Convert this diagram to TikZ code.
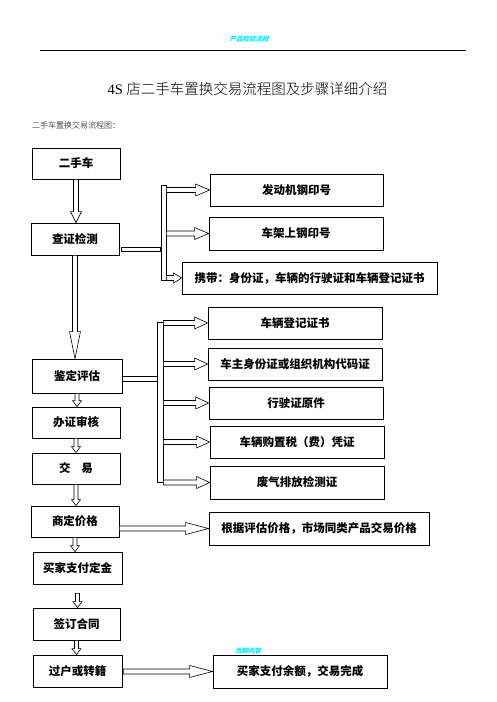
\documentclass[tikz,border=0pt]{standalone}
\usepackage{fontspec}
\setmainfont{Liberation Serif}
\newfontfamily\cjk{Noto Sans CJK SC}
\newfontfamily\cjkl{Noto Sans CJK SC}[UprightFont=* Light]
\newfontfamily\cjksl{Noto Sans CJK SC}[FakeSlant=0.25]
\usetikzlibrary{calc}
\definecolor{hdrcyan}{RGB}{0,235,255}
\tikzset{
 box/.style={draw, line width=0.8pt, inner sep=0pt, font=\cjk\bfseries\fontsize{11.5}{13}\selectfont},
 bar/.style={draw, line width=0.7pt, fill=white, inner sep=0pt},
 blk/.style={draw, line width=0.6pt, fill=white, line join=miter},
 hdr/.style={text=hdrcyan, font=\cjksl\bfseries\fontsize{6.5}{7}\selectfont, inner sep=0pt},
}
% vertical hollow arrow: from, to, shaft half, head half, head length
\newcommand\blockdown[5]{%
 \draw[blk] let \p1=(#1), \p2=(#2) in
  (\x1-#3pt,\y1) -- (\x1-#3pt,\y2+#5pt) -- (\x1-#4pt,\y2+#5pt) -- (\x1,\y2)
  -- (\x1+#4pt,\y2+#5pt) -- (\x1+#3pt,\y2+#5pt) -- (\x1+#3pt,\y1) -- cycle;}
% horizontal hollow arrow
\newcommand\blockright[5]{%
 \draw[blk] let \p1=(#1), \p2=(#2) in
  (\x1,\y2+#3pt) -- (\x2-#5pt,\y2+#3pt) -- (\x2-#5pt,\y2+#4pt) -- (\x2,\y2)
  -- (\x2-#5pt,\y2-#4pt) -- (\x2-#5pt,\y2-#3pt) -- (\x1,\y2-#3pt) -- cycle;}
\begin{document}
\begin{tikzpicture}[x=1pt,y=-1pt]
\useasboundingbox[fill=white] (0,0) rectangle (496,702);
% header
\node[hdr] (hdr) at (249,39) {产品检验流程};
\coordinate (hl) at (40,50);
\coordinate (hr) at (466,50);
\draw[line width=0.7pt] (hl) -- (hr);
% titles
\node[inner sep=0pt, font=\fontsize{14.5}{16}\selectfont] (title) at (247.5,89) {4S {\cjkl 店二手车置换交易流程图及步骤详细介绍}};
\node[inner sep=0pt, anchor=west, font=\cjkl\fontsize{8}{9}\selectfont] (sub) at (32,125) {二手车置换交易流程图：};
% left column
\node[box, minimum width=88pt, minimum height=31pt] (b1) at (76,163.5) {二手车};
\node[box, minimum width=88pt, minimum height=32pt] (b2) at (75,239) {查证检测};
\node[box, minimum width=90pt, minimum height=34pt] (b3) at (77,376) {鉴定评估};
\node[box, minimum width=88pt, minimum height=31pt] (b4) at (76,422.5) {办证审核};
\node[box, minimum width=88pt, minimum height=31pt] (b5) at (76,468.5) {交\hspace{11pt}易};
\node[box, minimum width=88pt, minimum height=31pt] (b6) at (75,521.5) {商定价格};
\node[box, minimum width=89pt, minimum height=32pt] (b7) at (77.5,568) {买家支付定金};
\node[box, minimum width=87pt, minimum height=32pt] (b8) at (76.5,624) {签订合同};
\node[box, minimum width=89pt, minimum height=32pt] (b9) at (77.5,671) {过户或转籍};
% right group 1
\node[box, minimum width=173pt, minimum height=32pt] (r1) at (296.5,190) {发动机钢印号};
\node[box, minimum width=174pt, minimum height=33pt] (r2) at (296,233.5) {车架上钢印号};
\node[box, minimum width=255pt, minimum height=32pt] (r3) at (309.5,278) {携带：身份证，车辆的行驶证和车辆登记证书};
% right group 2
\node[box, minimum width=174pt, minimum height=32pt] (m1) at (295,323) {车辆登记证书};
\node[box, minimum width=174pt, minimum height=32pt] (m2) at (295,364) {车主身份证或组织机构代码证};
\node[box, minimum width=174pt, minimum height=32pt] (m3) at (296,403) {行驶证原件};
\node[box, minimum width=174pt, minimum height=32pt] (m4) at (297,442) {车辆购置税（费）凭证};
\node[box, minimum width=174pt, minimum height=33pt] (m5) at (297,482.5) {废气排放检测证};
% other right boxes
\node[box, minimum width=220pt, minimum height=33pt] (p1) at (319,528.5) {根据评估价格，市场同类产品交易价格};
\node[box, minimum width=174pt, minimum height=33pt] (p2) at (300,671.5) {买家支付余额，交易完成};
% footer text
\node[hdr] (ftr) at (248,651) {页脚内容};
% bars
\node[bar, minimum width=39pt, minimum height=4pt] (hb1) at (140.5,249) {};
\node[bar, minimum width=5pt, minimum height=95pt] (vb1) at (163.5,232.5) {};
\node[bar, minimum width=35pt, minimum height=5pt] (hb2) at (139.5,378.5) {};
\node[bar, minimum width=6pt, minimum height=160pt] (vb2) at (160,402) {};
% vertical arrows
\blockdown{b1.south}{b2.north}{2.5}{5.5}{11}
\blockdown{b2.south}{b3.north}{2.5}{5.5}{27}
\blockdown{b3.south}{b4.north}{2}{4.5}{6}
\blockdown{b4.south}{b5.north}{2}{4.5}{6}
\blockdown{b5.south}{b6.north}{2}{4.5}{6}
\blockdown{b6.south}{b7.north}{2}{4.5}{6}
\blockdown{$(b7.south)+(0,9)$}{b8.north}{2}{4.5}{6}
\blockdown{b8.south}{b9.north}{2}{4.5}{6}
% horizontal arrows
\blockright{vb1.east}{r1.west}{2.5}{6}{14}
\blockright{vb1.east}{r2.west}{2.5}{6}{14}
\blockright{vb1.east}{r3.west}{2.5}{5}{8}
\blockright{vb2.east}{m1.west}{2.5}{6}{13}
\blockright{vb2.east}{m2.west}{2.5}{6}{13}
\blockright{vb2.east}{m3.west}{2.5}{6}{13}
\blockright{vb2.east}{m4.west}{2.5}{6}{13}
\blockright{vb2.east}{m5.west}{2.5}{6}{13}
\blockright{b6.east}{p1.west}{2.5}{6}{23}
\blockright{$(b9.east)+(1,0)$}{p2.west}{2.5}{6}{23}
\end{tikzpicture}
\end{document}
